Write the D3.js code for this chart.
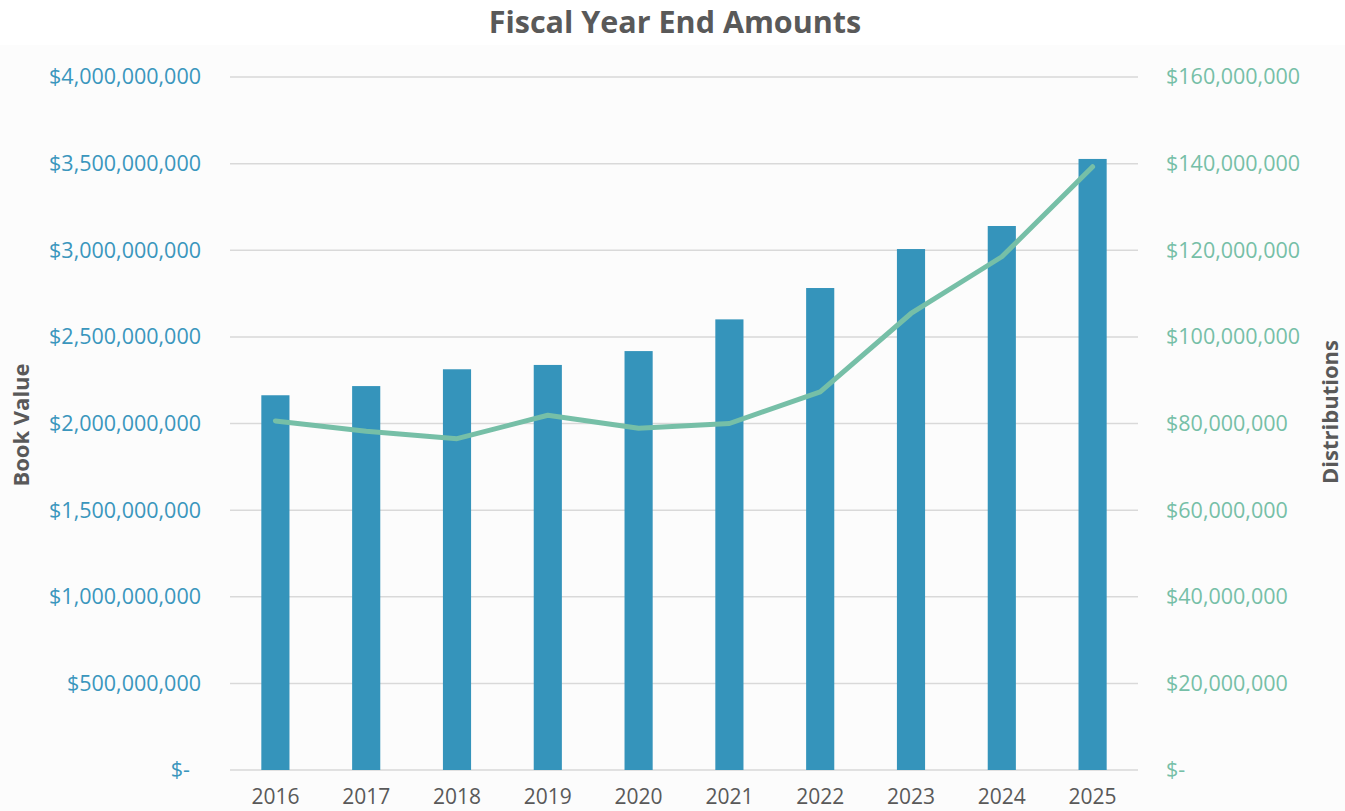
<!DOCTYPE html>
<html>
<head>
<meta charset="utf-8">
<script src="https://cdn.jsdelivr.net/npm/d3@7"></script>
<style>
  html, body { margin: 0; padding: 0; background: #ffffff; }
  svg { display: block; }
  text { font-family: "Open Sans", "Noto Sans", sans-serif; }
</style>
</head>
<body>
<svg id="chart" width="1345" height="811"></svg>
<script>
// Fiscal year end amounts: book value (bars, left axis) and distributions (line, right axis)
const years = ["2016", "2017", "2018", "2019", "2020", "2021", "2022", "2023", "2024", "2025"];
const bookValue = [2163e6, 2216e6, 2313e6, 2338e6, 2418e6, 2601e6, 2782e6, 3007e6, 3140e6, 3527e6];
const distributions = [80.6e6, 78.2e6, 76.5e6, 81.9e6, 78.9e6, 80.0e6, 87.3e6, 105.4e6, 118.5e6, 139.3e6];
const leftTicks = [0, 500e6, 1000e6, 1500e6, 2000e6, 2500e6, 3000e6, 3500e6, 4000e6];
const rightTicks = [0, 20e6, 40e6, 60e6, 80e6, 100e6, 120e6, 140e6, 160e6];

const W = 1345, H = 811;
const plot = { left: 230, right: 1138, top: 77, bottom: 770 };

const svg = d3.select("#chart");

// soft panel behind the plot
svg.append("rect").attr("x", 0).attr("y", 45).attr("width", W).attr("height", H - 45).attr("fill", "#fcfcfc");

const x = d3.scaleBand().domain(years).range([plot.left, plot.right]).paddingInner(0.69).paddingOuter(0.345);
const yL = d3.scaleLinear().domain([0, 4000e6]).range([plot.bottom, plot.top]);
const yR = d3.scaleLinear().domain([0, 160e6]).range([plot.bottom, plot.top]);

const money = d3.format(",.0f");
const fmt = v => v === 0 ? "$-" : "$" + money(v);

// gridlines
svg.append("g")
  .selectAll("line").data(leftTicks).join("line")
  .attr("x1", plot.left).attr("x2", plot.right)
  .attr("y1", d => yL(d)).attr("y2", d => yL(d))
  .attr("stroke", "#d9d9d9").attr("stroke-width", 1.5);

// bars
svg.append("g")
  .selectAll("rect").data(years).join("rect")
  .attr("x", d => x(d)).attr("width", x.bandwidth())
  .attr("y", (d, i) => yL(bookValue[i]))
  .attr("height", (d, i) => yL(0) - yL(bookValue[i]))
  .attr("fill", "#3594bb");

// distributions line
const line = d3.line()
  .x((d, i) => x(years[i]) + x.bandwidth() / 2)
  .y(d => yR(d));
svg.append("path").datum(distributions)
  .attr("d", line)
  .attr("fill", "none").attr("stroke", "#76bfa7")
  .attr("stroke-width", 5).attr("stroke-linejoin", "round").attr("stroke-linecap", "round");

// left axis
const axL = d3.axisLeft(yL).tickValues(leftTicks).tickFormat(fmt).tickSize(0).tickPadding(0);
const gL = svg.append("g").attr("transform", `translate(201,0)`).call(axL);
gL.select(".domain").remove();
gL.selectAll("text")
  .attr("fill", "#3a96bd").style("font-size", "21.5px")
  .attr("dx", d => d === 0 ? -11 : 0);

// right axis
const axR = d3.axisRight(yR).tickValues(rightTicks).tickFormat(fmt).tickSize(0).tickPadding(0);
const gR = svg.append("g").attr("transform", `translate(1166,0)`).call(axR);
gR.select(".domain").remove();
gR.selectAll("text").attr("fill", "#76bfa7").style("font-size", "21.5px");

// category axis
const axB = d3.axisBottom(x).tickSize(0).tickPadding(0);
const gB = svg.append("g").attr("transform", `translate(0,${plot.bottom + 19})`).call(axB);
gB.select(".domain").remove();
gB.selectAll("text").attr("fill", "#595959").style("font-size", "21px");

// title
svg.append("text")
  .attr("x", 675).attr("y", 33)
  .attr("text-anchor", "middle")
  .attr("fill", "#595959")
  .style("font-size", "30.5px").style("font-weight", "bold")
  .text("Fiscal Year End Amounts");

// axis titles
svg.append("text")
  .attr("transform", "translate(29,425) rotate(-90)")
  .attr("text-anchor", "middle").attr("fill", "#595959")
  .style("font-size", "22px").style("font-weight", "bold")
  .text("Book Value");

svg.append("text")
  .attr("transform", "translate(1338,412) rotate(-90)")
  .attr("text-anchor", "middle").attr("fill", "#595959")
  .style("font-size", "22px").style("font-weight", "bold")
  .text("Distributions");
</script>
</body>
</html>
